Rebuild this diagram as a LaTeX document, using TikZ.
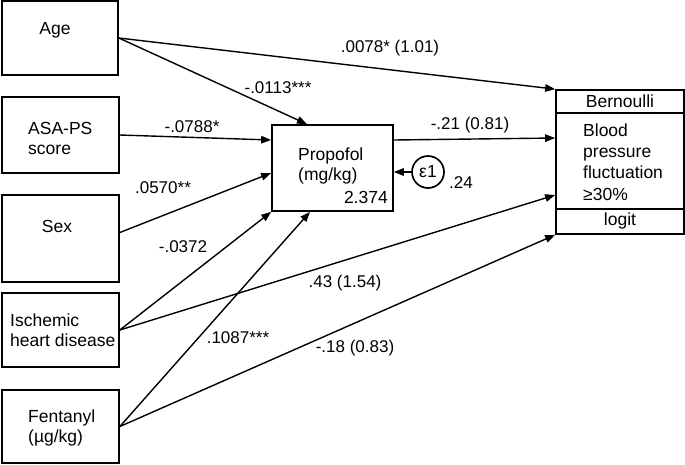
\documentclass[tikz,border=0pt]{standalone}
\usepackage{fontspec}
\setmainfont{Liberation Sans}
\usetikzlibrary{arrows.meta}
\begin{document}
\begin{tikzpicture}[x=1pt,y=-1pt,
  box/.style={draw, line width=1.7pt, inner sep=0pt},
  txt/.style={font=\fontsize{17.5}{20}\selectfont, inner sep=0pt, align=left},
  lab/.style={font=\fontsize{17}{19}\selectfont, inner sep=0pt},
  arr/.style={line width=1.4pt, -{Triangle[length=10pt,width=7.5pt]}}]
\useasboundingbox (0,0) rectangle (685,464);
% left boxes
\node[box, minimum width=116pt, minimum height=74pt] (age) at (60,38) {};
\node[box, minimum width=117pt, minimum height=76pt] (asa) at (60.5,135) {};
\node[box, minimum width=117pt, minimum height=87pt] (sex) at (60.5,238.5) {};
\node[box, minimum width=117pt, minimum height=74pt] (isch) at (60.5,330) {};
\node[box, minimum width=117pt, minimum height=73pt] (fent) at (60.5,426.5) {};
\node[txt] (tage) at (55,30) {Age};
\node[txt, anchor=west] (tasa) at (28,138) {ASA-PS\\score};
\node[txt] (tsex) at (57,226) {Sex};
\node[txt, anchor=west] (tisch) at (10,330) {Ischemic\\heart disease};
\node[txt, anchor=west] (tfent) at (28,428) {Fentanyl\\(µg/kg)};
% propofol
\node[box, minimum width=121pt, minimum height=86pt] (prop) at (332.5,168) {};
\node[txt, anchor=west] (tprop) at (298,166) {Propofol\\(mg/kg)};
\node[txt, anchor=east] (tint) at (388,197) {2.374};
\node[box, circle, minimum size=32pt] (e1) at (428,172) {};
\node[txt] (te1) at (428,172) {ε1};
\node[lab] (l24) at (461,183) {.24};
% outcome
\node[box, minimum width=128pt, minimum height=23pt] (bern) at (620,101.5) {};
\node[box, minimum width=128pt, minimum height=96pt] (out) at (620,161) {};
\node[box, minimum width=128pt, minimum height=25pt] (logit) at (620,221.5) {};
\node[txt] (tbern) at (620,101) {Bernoulli};
\node[txt, anchor=west, font=\fontsize{17.5}{21.3}\selectfont] (tout) at (583,162) {Blood\\pressure\\fluctuation\\≥30\%};
\node[txt] (tlogit) at (620,221) {logit};
% connectors
\draw[arr] (age.east) -- (bern.north west);
\draw[arr] (age.east) -- ([xshift=-25.5pt]prop.north);
\draw[arr] (asa.east) -- ([yshift=28pt]prop.west);
\draw[arr] ([yshift=6pt]sex.east) -- ([yshift=-5pt]prop.west);
\draw[arr] (isch.east) -- (prop.south west);
\draw[arr] (isch.east) -- ([yshift=-34pt]out.west);
\draw[arr] (fent.east) -- ([xshift=-22.5pt]prop.south);
\draw[arr] (fent.east) -- (logit.south west);
\draw[arr] ([yshift=28pt]prop.east) -- ([yshift=23pt]out.west);
\draw[arr] (e1.west) -- (e1.west -| prop.east);
% labels
\node[lab] at (390,48) {.0078* (1.01)};
\node[lab] at (278,88) {-.0113***};
\node[lab] at (192,127) {-.0788*};
\node[lab] at (470,125) {-.21 (0.81)};
\node[lab] at (163,188) {.0570**};
\node[lab] at (183,247) {-.0372};
\node[lab] at (345,283) {.43 (1.54)};
\node[lab] at (238,338) {.1087***};
\node[lab] at (355,348) {-.18 (0.83)};
\end{tikzpicture}
\end{document}
